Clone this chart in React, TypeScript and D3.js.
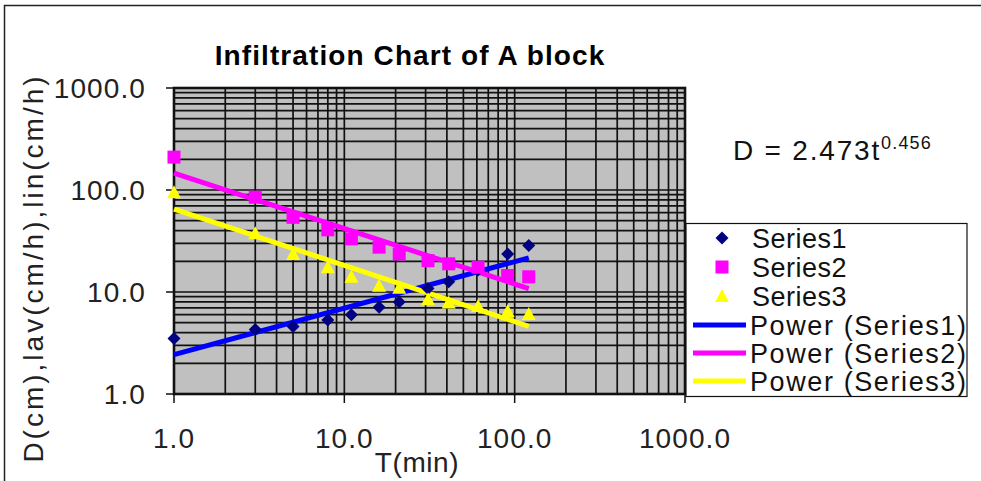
import * as d3 from 'd3';

const times = [1, 3, 5, 8, 11, 16, 21, 31, 41, 61, 91, 121];
const series1 = [3.5, 4.3, 4.6, 5.3, 6.0, 7.1, 8.0, 10.8, 12.6, 16.4, 23.6, 28.5];
const series2 = [210, 85, 54, 40.7, 33.2, 27.5, 23.6, 20.3, 18.9, 17.5, 14.5, 14.1];
const series3 = [95, 37.7, 23.6, 17.5, 14.1, 11.5, 11.0, 8.5, 7.9, 7.3, 6.5, 6.1];
const seriesNames = ['Series1', 'Series2', 'Series3'];
const xTicks = [1, 10, 100, 1000];
const yTicks = [1, 10, 100, 1000];
const chartTitle = 'Infiltration Chart of A block';
const xTitle = 'T(min)';
const yTitle = 'D(cm),lav(cm/h),lin(cm/h)';
const eqBase = 'D = 2.473t';
const eqPower = '0.456';

const markerColors = ['#000080', '#ff00ff', '#ffff00'];
const lineColors = ['#0000ff', '#ff00ff', '#ffff00'];
const FONT = '"Liberation Sans", Arial, sans-serif';

// least squares on ln(y) = ln(a) + b ln(x), same as a power trendline
function powerFit(xs: number[], ys: number[]) {
  const lx = xs.map(Math.log);
  const ly = ys.map(Math.log);
  const mx = d3.mean(lx) ?? 0;
  const my = d3.mean(ly) ?? 0;
  let sxy = 0;
  let sxx = 0;
  lx.forEach((v, i) => {
    sxy += (v - mx) * (ly[i] - my);
    sxx += (v - mx) * (v - mx);
  });
  const b = sxy / sxx;
  const a = Math.exp(my - b * mx);
  return (t: number) => a * Math.pow(t, b);
}

function marker(kind: number, cx: number, cy: number, key: string) {
  const c = markerColors[kind];
  if (kind === 0) {
    const r = 6.5;
    return (
      <path key={key} d={`M${cx},${cy - r}L${cx + r},${cy}L${cx},${cy + r}L${cx - r},${cy}Z`} fill={c} />
    );
  }
  if (kind === 1) {
    return <rect key={key} x={cx - 6.5} y={cy - 6.5} width={13} height={13} fill={c} />;
  }
  return (
    <path key={key} d={`M${cx},${cy - 7}L${cx + 7},${cy + 6}L${cx - 7},${cy + 6}Z`} fill={c} />
  );
}

export default function App() {
  const x = d3.scaleLog().domain([1, 1000]).range([174, 685]);
  const y = d3.scaleLog().domain([1, 1000]).range([394, 88]);
  const allSeries = [series1, series2, series3];
  const fits = allSeries.map((s) => powerFit(times, s));

  const legendRows = [238, 267, 296, 325, 353, 381];

  return (
    <svg
      width={981}
      height={481}
      style={{ position: 'absolute', left: 0, top: 0, background: '#fff' }}
      fontFamily={FONT}
    >
      <rect x={4.5} y={5.5} width={990} height={490} fill="#fff" stroke="#222" strokeWidth={1.5} />

      <text x={410} y={65} textAnchor="middle" fontSize={28} fontWeight="bold" letterSpacing={1.1}>
        {chartTitle}
      </text>

      {/* plot area */}
      <rect x={174} y={88} width={511} height={306} fill="#c0c0c0" />
      {x.ticks().map((t) => (
        <line key={'gx' + t} x1={x(t)} x2={x(t)} y1={88} y2={394} stroke="#111" strokeWidth={1.7} />
      ))}
      {y.ticks().map((t) => (
        <line key={'gy' + t} x1={174} x2={685} y1={y(t)} y2={y(t)} stroke="#111" strokeWidth={1.7} />
      ))}
      <rect x={174} y={88} width={511} height={306} fill="none" stroke="#111" strokeWidth={2.6} />

      {/* ticks and labels */}
      {yTicks.map((t) => (
        <g key={'yt' + t}>
          <line x1={166} x2={174} y1={y(t)} y2={y(t)} stroke="#111" strokeWidth={1.5} />
          <text x={146} y={y(t)} dy="0.36em" textAnchor="end" fontSize={28} letterSpacing={1.1} fill="#222">
            {t.toFixed(1)}
          </text>
        </g>
      ))}
      {xTicks.map((t) => (
        <g key={'xt' + t}>
          <line x1={x(t)} x2={x(t)} y1={394} y2={403} stroke="#111" strokeWidth={1.5} />
          <text x={x(t)} y={448} textAnchor="middle" fontSize={28} letterSpacing={1.1} fill="#222">
            {t.toFixed(1)}
          </text>
        </g>
      ))}
      <text x={417} y={472} textAnchor="middle" fontSize={28} letterSpacing={0.6} fill="#222">
        {xTitle}
      </text>
      <text
        transform="translate(43,268) rotate(-90)"
        textAnchor="middle"
        fontSize={28}
        letterSpacing={3}
        fill="#222"
      >
        {yTitle}
      </text>

      {/* trend lines */}
      {fits.map((f, i) => (
        <path
          key={'fit' + i}
          d={
            d3
              .line<number>()
              .x((t) => x(t))
              .y((t) => y(f(t)))([times[0], times[times.length - 1]]) ?? ''
          }
          fill="none"
          stroke={lineColors[i]}
          strokeWidth={5}
        />
      ))}

      {/* points */}
      {allSeries.map((s, i) => (
        <g key={'s' + i}>{s.map((v, j) => marker(i, x(times[j]), y(v), `p${i}-${j}`))}</g>
      ))}

      {/* equation */}
      <text x={733} y={160} fontSize={28} letterSpacing={1.8} fill="#111">
        {eqBase}
        <tspan dy={-11} fontSize={18} letterSpacing={1.2}>
          {eqPower}
        </tspan>
      </text>

      {/* legend */}
      <rect x={686} y={223.5} width={281} height={173} fill="#fff" stroke="#111" strokeWidth={1.2} />
      {seriesNames.map((n, i) => (
        <g key={'lm' + i}>
          {marker(i, 722, legendRows[i], 'lmk' + i)}
          <text x={752} y={legendRows[i]} dy="0.36em" fontSize={27} letterSpacing={0.5} fill="#111">
            {n}
          </text>
        </g>
      ))}
      {seriesNames.map((n, i) => (
        <g key={'ll' + i}>
          <line
            x1={693}
            x2={746}
            y1={legendRows[3 + i]}
            y2={legendRows[3 + i]}
            stroke={lineColors[i]}
            strokeWidth={5}
          />
          <text x={750} y={legendRows[3 + i]} dy="0.36em" fontSize={27} letterSpacing={1.6} fill="#111">
            {`Power (${n})`}
          </text>
        </g>
      ))}
    </svg>
  );
}
